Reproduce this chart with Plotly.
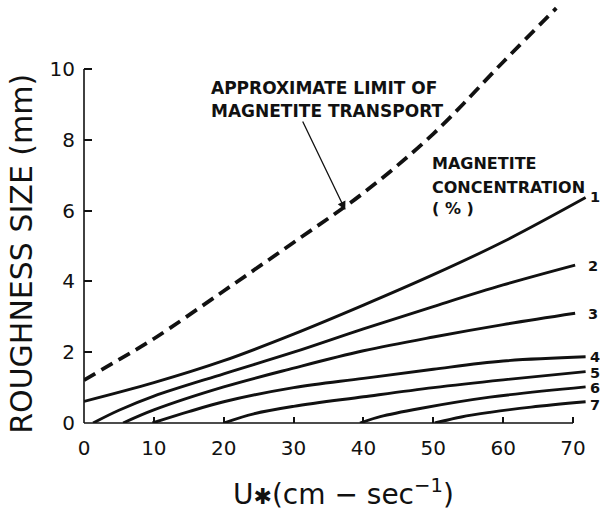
import plotly.graph_objects as go

# ---------------- data ----------------
x_ticks = [0, 10, 20, 30, 40, 50, 60, 70]
y_ticks = [0, 2, 4, 6, 8, 10]

limit_x = [0, 5, 10, 20, 30, 40, 50, 60, 67.6]
limit_y = [1.21, 1.79, 2.38, 3.73, 5.1, 6.5, 8.17, 10.2, 11.72]

c1_x = [0, 10, 20, 30, 40, 50, 60, 71.8]
c1_y = [0.61, 1.14, 1.76, 2.51, 3.33, 4.19, 5.12, 6.37]
c2_x = [1.3, 5, 10, 20, 30, 40, 50, 60, 70.3]
c2_y = [0, 0.36, 0.76, 1.39, 2.0, 2.66, 3.29, 3.9, 4.46]
c3_x = [5.6, 10, 20, 30, 40, 50, 60, 70.3]
c3_y = [0, 0.37, 1.02, 1.55, 2.04, 2.43, 2.78, 3.10]
c4_x = [9.8, 15, 20, 30, 40, 50, 60, 71.8]
c4_y = [0, 0.32, 0.6, 1.0, 1.26, 1.52, 1.75, 1.87]
c5_x = [20, 24.3, 30, 40, 50, 60, 71.8]
c5_y = [0, 0.26, 0.47, 0.74, 1.0, 1.22, 1.45]
c6_x = [39.5, 42.4, 48.1, 58.1, 71.8]
c6_y = [0, 0.18, 0.41, 0.73, 1.02]
c7_x = [50.2, 54, 58.1, 64, 71.8]
c7_y = [0, 0.17, 0.3, 0.45, 0.6]

curve_labels = ["1", "2", "3", "4", "5", "6", "7"]
label_x = [73.1, 72.9, 72.9, 73.1, 73.1, 73.1, 73.1]
label_y = [6.38, 4.44, 3.08, 1.86, 1.41, 0.99, 0.51]

x_range = [0, 73.86]
y_range = [0, 11.95]
x_axis_end = 70
y_axis_end = 10

FONT = "DejaVu Sans"
INK = "#111111"

fig = go.Figure()

fig.add_trace(go.Scatter(x=limit_x, y=limit_y, mode="lines",
                         line=dict(color=INK, width=3.8, dash="13px,7px",
                                   shape="spline", smoothing=1.0),
                         hoverinfo="skip"))

for cx, cy in [(c1_x, c1_y), (c2_x, c2_y), (c3_x, c3_y), (c4_x, c4_y),
               (c5_x, c5_y), (c6_x, c6_y), (c7_x, c7_y)]:
    fig.add_trace(go.Scatter(x=cx, y=cy, mode="lines",
                             line=dict(color=INK, width=2.9,
                                       shape="spline", smoothing=1.0),
                             hoverinfo="skip"))

# axis lines (left axis only to 10, bottom axis only to 70)
fig.add_shape(type="line", xref="x domain", yref="y domain",
              x0=0, x1=0, y0=0, y1=y_axis_end / y_range[1],
              line=dict(color=INK, width=1.6))
fig.add_shape(type="line", xref="x domain", yref="y domain",
              x0=0, x1=x_axis_end / x_range[1], y0=0, y1=0,
              line=dict(color=INK, width=1.6))

annotations = []
# curve labels
for t, lx, ly in zip(curve_labels, label_x, label_y):
    annotations.append(dict(x=lx, y=ly, xref="x", yref="y", text="<b>%s</b>" % t,
                            showarrow=False, xanchor="center", yanchor="middle",
                            font=dict(family=FONT, size=14.5, color=INK)))

# text blocks
for txt, tx, ty, fs in [("APPROXIMATE LIMIT OF", 17.9, 9.46, 17),
                        ("MAGNETITE TRANSPORT", 17.9, 8.81, 17),
                        ("MAGNETITE", 49.5, 7.32, 16),
                        ("CONCENTRATION", 49.5, 6.64, 16),
                        ("( % )", 49.5, 6.05, 16)]:
    annotations.append(dict(x=tx, y=ty, xref="x", yref="y", text="<b>%s</b>" % txt,
                            showarrow=False, xanchor="left", yanchor="middle",
                            font=dict(family=FONT, size=fs, color=INK)))

# arrow to the limit curve
annotations.append(dict(x=37.4, y=6.02, ax=31.2, ay=8.56, xref="x", yref="y",
                        axref="x", ayref="y", text="", showarrow=True,
                        arrowhead=2, arrowsize=1.3, arrowwidth=1.3,
                        arrowcolor=INK))

# axis titles
annotations.append(dict(x=-62 / 516, y=0.40, xref="paper", yref="paper",
                        text="ROUGHNESS SIZE (mm)", textangle=-90, showarrow=False,
                        xanchor="center", yanchor="middle",
                        font=dict(family=FONT, size=30, color=INK)))
annotations.append(dict(x=0.502, y=-0.165, xref="paper", yref="paper",
                        text="U<span style='font-size:22px'>✱</span>(cm − sec<sup>−1</sup>)",
                        showarrow=False, xanchor="center", yanchor="middle",
                        font=dict(family=FONT, size=28, color=INK)))

fig.update_layout(
    width=600, height=511,
    margin=dict(l=84, r=0, t=0, b=88),
    paper_bgcolor="white", plot_bgcolor="white",
    showlegend=False,
    annotations=annotations,
    xaxis=dict(range=x_range, tickvals=x_ticks, ticktext=[str(v) for v in x_ticks],
               ticks="inside", ticklen=6, tickwidth=1.5, tickcolor=INK,
               showgrid=False, zeroline=False, showline=False,
               ticklabelstandoff=11,
               tickfont=dict(family=FONT, size=20, color=INK)),
    yaxis=dict(range=y_range, tickvals=y_ticks, ticktext=[str(v) for v in y_ticks],
               ticks="inside", ticklen=8, tickwidth=1.5, tickcolor=INK,
               showgrid=False, zeroline=False, showline=False,
               ticklabelstandoff=8,
               tickfont=dict(family=FONT, size=20, color=INK)),
)

fig.write_html("out.html")
